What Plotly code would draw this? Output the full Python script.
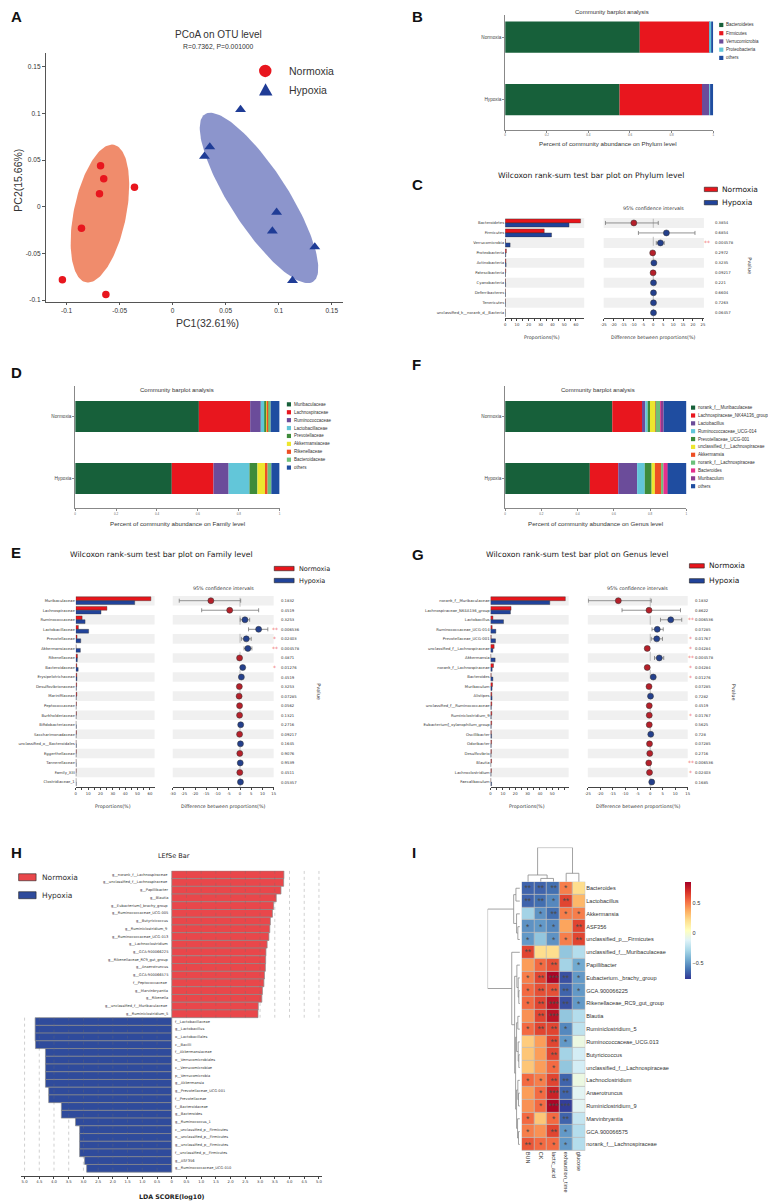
import numpy as np
import plotly.graph_objects as go

W, H = 776, 1204
OFF = 8  # page offset of the plot div (body margin) compensated in all pixel positions
SANS = "Liberation Sans"
MPL = "DejaVu Sans"

# ---------------- Panel A : PCoA ----------------
pcoa_norm_x = [-0.068, -0.065, -0.069, -0.036, -0.086, -0.104, -0.063]
pcoa_norm_y = [0.044, 0.030, 0.014, 0.021, -0.023, -0.078, -0.094]
pcoa_hyp_x = [0.064, 0.035, 0.030, 0.098, 0.094, 0.134, 0.113]
pcoa_hyp_y = [0.104, 0.064, 0.054, -0.006, -0.026, -0.043, -0.079]
pcoa_ticks = [-0.1, -0.05, 0, 0.05, 0.1, 0.15]
pcoa_ticktext = ["-0.1", "-0.05", "0", "0.05", "0.1", "0.15"]
ell_norm = dict(center=(-0.0686, -0.0073), major=(0.0133, 0.0736), minor=(0.0242, -0.0057))
ell_hyp = dict(center=(0.0814, 0.0094), major=(0.0510, -0.0896), minor=(0.0228, 0.0169))

group_names = ["Normoxia", "Hypoxia"]

# ---------------- Panels B / D / F : community barplots ----------------
bar_ticks = [0, 0.2, 0.4, 0.6, 0.8, 1]
bar_ticktext = ["0", "0.2", "0.4", "0.6", "0.8", "1"]

phylum_taxa = ["Bacteroidetes", "Firmicutes", "Verrucomicrobia", "Proteobacteria", "others"]
phylum_abund_norm = [0.647, 0.334, 0.003, 0.006, 0.010]
phylum_abund_hyp = [0.550, 0.396, 0.035, 0.004, 0.015]

family_taxa = ["Muribaculaceae", "Lachnospiraceae", "Ruminococcaceae", "Lactobacillaceae",
               "Prevotellaceae", "Akkermansiaceae", "Rikenellaceae", "Bacteroidaceae", "others"]
family_abund_norm = [0.605, 0.251, 0.052, 0.019, 0.008, 0.002, 0.011, 0.008, 0.044]
family_abund_hyp = [0.4725, 0.204, 0.074, 0.102, 0.039, 0.037, 0.013, 0.018, 0.0405]

genus_taxa = ["norank_f__Muribaculaceae", "Lachnospiraceae_NK4A136_group", "Lactobacillus",
              "Ruminococcaceae_UCG-014", "Prevotellaceae_UCG-001", "unclassified_f__Lachnospiraceae",
              "Akkermansia", "norank_f__Lachnospiraceae", "Bacteroides", "Muribaculum", "others"]
genus_abund_norm = [0.591, 0.164, 0.018, 0.013, 0.013, 0.029, 0.002, 0.026, 0.003, 0.015, 0.126]
genus_abund_hyp = [0.467, 0.157, 0.104, 0.042, 0.038, 0.018, 0.036, 0.011, 0.022, 0.003, 0.102]

# ---------------- Panels C / E / G : Wilcoxon ----------------
phylum_names = ["Bacteroidetes", "Firmicutes", "Verrucomicrobia", "Proteobacteria", "Actinobacteria",
                "Patescibacteria", "Cyanobacteria", "Deferribacteres", "Tenericutes",
                "unclassified_k__norank_d__Bacteria"]
phylum_norm = [63.9, 33.1, 0.3, 1.0, 0.6, 0.5, 0.3, 0.2, 0.2, 0.1]
phylum_hyp = [54.1, 39.3, 4.2, 0.5, 0.8, 0.3, 0.4, 0.3, 0.2, 0.1]
phylum_diff = [-9.8, 6.6, 3.6, -0.3, 0.3, -0.1, 0.1, 0.1, 0.1, 0.1]
phylum_lo = [-24.1, -7.5, 1.5, -0.6, 0.1, -0.3, 0.0, 0.0, 0.0, 0.0]
phylum_hi = [2.5, 21.0, 5.5, 0.0, 0.5, 0.1, 0.2, 0.2, 0.2, 0.2]
phylum_p = ["0.3854", "0.6854", "0.004578", "0.2972", "0.3235", "0.09217", "0.221", "0.6604",
            "0.7263", "0.06457"]
phylum_sig = ["", "", "**", "", "", "", "", "", "", ""]

family_names = ["Muribaculaceae", "Lachnospiraceae", "Ruminococcaceae", "Lactobacillaceae",
                "Prevotellaceae", "Akkermansiaceae", "Rikenellaceae", "Bacteroidaceae",
                "Erysipelotrichaceae", "Desulfovibrionaceae", "Marinifilaceae", "Peptococcaceae",
                "Burkholderiaceae", "Bifidobacteriaceae", "Saccharimonadaceae",
                "unclassified_o__Bacteroidales", "Eggerthellaceae", "Tannerellaceae", "Family_XIII",
                "Clostridiaceae_1"]
family_norm = [60.8, 25.2, 5.1, 2.1, 1.0, 0.2, 1.3, 0.8, 0.8, 0.7, 0.8, 0.5, 0.5, 0.1, 0.5, 0.2,
               0.4, 0.2, 0.3, 0.1]
family_hyp = [47.7, 20.4, 7.5, 10.4, 4.0, 3.7, 1.2, 1.9, 0.9, 0.4, 0.3, 0.2, 0.2, 0.4, 0.2, 0.4,
              0.2, 0.3, 0.1, 0.3]
family_diff = [-13.0, -4.6, 2.2, 8.3, 2.8, 3.5, -0.2, 1.2, 0.6, -0.3, -0.4, -0.2, -0.2, 0.3, -0.2,
               0.2, -0.1, 0.1, -0.1, 0.2]
family_lo = [-27.1, -17.1, 0.1, 3.8, 0.6, 1.8, -0.5, 0.7, 0.2, -0.6, -0.8, -0.4, -0.4, 0.1, -0.4,
             0.0, -0.3, 0.0, -0.3, 0.0]
family_hi = [0.3, 8.3, 4.3, 12.4, 5.0, 5.3, 0.1, 1.7, 1.0, 0.0, 0.0, 0.0, 0.0, 0.5, 0.0, 0.4, 0.1,
             0.2, 0.1, 0.4]
family_p = ["0.1832", "0.4519", "0.3253", "0.006536", "0.02403", "0.004578", "0.4871", "0.01276",
            "0.4519", "0.3253", "0.07285", "0.0562", "0.1321", "0.2716", "0.09217", "0.1645",
            "0.9076", "0.9539", "0.4511", "0.05357"]
family_sig = ["", "", "", "**", "*", "**", "", "*", "", "", "", "", "", "", "", "", "", "", "", ""]

genus_names = ["norank_f__Muribaculaceae", "Lachnospiraceae_NK4A136_group", "Lactobacillus",
               "Ruminococcaceae_UCG-014", "Prevotellaceae_UCG-001", "unclassified_f__Lachnospiraceae",
               "Akkermansia", "norank_f__Lachnospiraceae", "Bacteroides", "Muribaculum", "Alistipes",
               "unclassified_f__Ruminococcaceae", "Ruminiclostridium_9",
               "Eubacterium]_xylanophilum_group", "Oscillibacter", "Odoribacter", "Desulfovibrio",
               "Blautia", "Lachnoclostridium", "Faecalibaculum"]
genus_norm = [60.6, 16.6, 1.9, 1.3, 0.5, 2.9, 0.2, 2.4, 0.5, 1.6, 1.0, 1.0, 1.0, 0.9, 0.6, 0.8, 0.7,
              0.8, 0.7, 0.2]
genus_hyp = [48.0, 16.1, 10.5, 4.3, 4.0, 1.9, 3.7, 1.3, 1.9, 1.2, 1.2, 0.6, 0.5, 0.5, 0.8, 0.5, 0.4,
             0.2, 0.4, 0.8]
genus_diff = [-12.8, -0.5, 8.2, 2.8, 2.6, -1.2, 3.6, -1.2, 1.2, -0.5, 0.1, -0.4, -0.4, -0.4, 0.2,
              -0.3, -0.2, -0.6, -0.3, 0.6]
genus_lo = [-24.8, -11.3, 4.1, 0.7, 0.4, -2.0, 1.7, -2.0, 0.6, -1.0, -0.3, -0.8, -0.7, -0.7, -0.2,
            -0.6, -0.5, -0.9, -0.6, 0.2]
genus_hi = [0.4, 12.1, 12.6, 5.2, 4.9, -0.4, 5.4, -0.4, 1.8, 0.0, 0.5, 0.0, -0.1, -0.1, 0.6, 0.0,
            0.1, -0.3, 0.0, 1.0]
genus_p = ["0.1832", "0.8622", "0.006536", "0.07285", "0.01767", "0.04284", "0.004578", "0.04284",
           "0.01276", "0.07285", "0.7282", "0.4519", "0.01767", "0.5625", "0.728", "0.07285",
           "0.2716", "0.006536", "0.02403", "0.1685"]
genus_sig = ["", "", "**", "", "*", "*", "**", "*", "*", "", "", "", "*", "", "", "", "", "**", "*", ""]

# ---------------- Panel H : LEfSe ----------------
lefse_norm_names = ["g__norank_f__Lachnospiraceae", "g__unclassified_f__Lachnospiraceae",
                    "g__Papillibacter", "g__Blautia", "g__Eubacterium]_brachy_group",
                    "g__Ruminococcaceae_UCG-005", "g__Butyricicoccus", "g__Ruminiclostridium_9",
                    "g__Ruminococcaceae_UCG-013", "g__Lachnoclostridium", "g__GCA-900066225",
                    "g__Rikenellaceae_RC9_gut_group", "g__Anaerotruncus", "g__GCA-900066575",
                    "f__Peptococcaceae", "g__Marvinbryantia", "g__Rikenella",
                    "g__unclassified_f__Muribaculaceae", "g__Ruminiclostridium_5"]
lefse_norm_lda = [3.81, 3.80, 3.71, 3.55, 3.46, 3.42, 3.35, 3.33, 3.30, 3.24, 3.20, 3.19, 3.18,
                  3.15, 3.13, 3.08, 3.06, 2.94, 2.93]
lefse_hyp_names = ["f__Lactobacillaceae", "g__Lactobacillus", "o__Lactobacillales", "c__Bacilli",
                   "f__Akkermansiaceae", "o__Verrucomicrobiales", "c__Verrucomicrobiae",
                   "p__Verrucomicrobia", "g__Akkermansia", "g__Prevotellaceae_UCG-001",
                   "f__Prevotellaceae", "f__Bacteroidaceae", "g__Bacteroides", "g__Ruminococcus_1",
                   "c__unclassified_p__Firmicutes", "o__unclassified_p__Firmicutes",
                   "g__unclassified_p__Firmicutes", "f__unclassified_p__Firmicutes", "g__ASF356",
                   "g__Ruminococcaceae_UCG-010"]
lefse_hyp_lda = [4.64, 4.64, 4.64, 4.63, 4.29, 4.29, 4.29, 4.29, 4.29, 4.18, 4.18, 3.75, 3.75, 3.27,
                 3.13, 3.13, 3.13, 3.13, 2.96, 2.89]
lda_ticks = [-5.0, -4.5, -4.0, -3.5, -3.0, -2.5, -2.0, -1.5, -1.0, -0.5, 0, 0.5, 1.0, 1.5, 2.0,
             2.5, 3.0, 3.5, 4.0, 4.5, 5.0]
lda_ticktext = ["5.0", "4.5", "4.0", "3.5", "3.0", "2.5", "2.0", "1.5", "1.0", "0.5", "0", "0.5",
                "1.0", "1.5", "2.0", "2.5", "3.0", "3.5", "4.0", "4.5", "5.0"]

# ---------------- Panel I : correlation heatmap ----------------
heat_cols = ["BUN", "CK", "lactic_acid", "exhaustion_time", "glucose"]
heat_rows = ["Bacteroides", "Lactobacillus", "Akkermansia", "ASF356", "unclassified_p__Firmicutes",
             "unclassified_f__Muribaculaceae", "Papillibacter", "Eubacterium._brachy_group",
             "GCA.900066225", "Rikenellaceae_RC9_gut_group", "Blautia", "Ruminiclostridium_5",
             "Ruminococcaceae_UCG.013", "Butyricicoccus", "unclassified_f__Lachnospiraceae",
             "Lachnoclostridium", "Anaerotruncus", "Ruminiclostridium_9", "Marvinbryantia",
             "GCA.900066575", "norank_f__Lachnospiraceae"]
heat_r = [
    [-0.65, -0.65, -0.62, 0.50, 0.22],
    [-0.65, -0.62, -0.55, 0.65, 0.35],
    [-0.30, -0.52, -0.62, 0.50, 0.50],
    [-0.52, -0.50, -0.55, 0.40, 0.65],
    [-0.50, -0.35, -0.52, 0.50, 0.65],
    [0.65, 0.22, 0.22, -0.35, -0.25],
    [0.42, 0.55, 0.62, -0.30, -0.45],
    [0.50, 0.65, 0.85, -0.70, -0.50],
    [0.55, 0.62, 0.62, -0.65, -0.50],
    [0.55, 0.65, 0.80, -0.70, -0.50],
    [0.45, 0.65, 0.80, -0.35, -0.25],
    [0.55, 0.65, 0.65, -0.55, -0.22],
    [0.28, 0.42, 0.65, -0.50, -0.05],
    [0.30, 0.42, 0.65, -0.30, -0.15],
    [0.30, 0.42, 0.55, -0.35, -0.15],
    [0.55, 0.50, 0.65, -0.65, -0.05],
    [0.42, 0.55, 0.75, -0.65, -0.10],
    [0.45, 0.55, 0.85, -0.75, -0.10],
    [0.55, 0.30, 0.55, -0.65, -0.20],
    [0.50, 0.45, 0.65, -0.50, -0.25],
    [0.60, 0.55, 0.55, -0.50, -0.25],
]
heat_sig = [
    ["**", "**", "**", "*", ""], ["**", "**", "*", "**", ""], ["", "*", "**", "*", "*"],
    ["*", "*", "*", "", "**"], ["*", "", "*", "*", "**"], ["**", "", "", "", ""],
    ["", "*", "**", "", "*"], ["*", "**", "***", "**", "*"], ["*", "**", "**", "**", "*"],
    ["*", "**", "***", "**", "*"], ["", "**", "***", "", ""], ["*", "**", "**", "*", ""],
    ["", "", "**", "*", ""], ["", "", "**", "", ""], ["", "", "*", "", ""],
    ["*", "*", "**", "**", ""], ["", "*", "***", "**", ""], ["", "*", "***", "***", ""],
    ["*", "", "*", "**", ""], ["*", "", "**", "*", ""], ["**", "*", "*", "*", ""],
]
heat_ticks = [-0.5, 0, 0.5]
heat_ticktext = ["\u22120.5", "0", "0.5"]
col_merges = [("CK", "lactic_acid", 0.10), ("BUN", "m0", 0.20),
              ("exhaustion_time", "glucose", 0.25), ("m1", "m2", 1.0)]
row_merges = [("Bacteroides", "Lactobacillus", 0.12), ("ASF356", "unclassified_p__Firmicutes", 0.06),
              ("Akkermansia", "m1", 0.10), ("m0", "m2", 0.19),
              ("GCA.900066225", "Rikenellaceae_RC9_gut_group", 0.03),
              ("Eubacterium._brachy_group", "m4", 0.05), ("Papillibacter", "m5", 0.09),
              ("Blautia", "Ruminiclostridium_5", 0.06),
              ("Butyricicoccus", "unclassified_f__Lachnospiraceae", 0.03),
              ("Ruminococcaceae_UCG.013", "m8", 0.05), ("m7", "m9", 0.10),
              ("Anaerotruncus", "Ruminiclostridium_9", 0.04), ("Lachnoclostridium", "m11", 0.06),
              ("GCA.900066575", "norank_f__Lachnospiraceae", 0.04), ("Marvinbryantia", "m13", 0.07),
              ("m12", "m14", 0.10), ("m10", "m15", 0.13), ("m6", "m16", 0.16),
              ("unclassified_f__Muribaculaceae", "m17", 0.25), ("m3", "m18", 1.0)]

# ---------------- colours ----------------
RED, BLUE = "#E8151B", "#21439A"
phylum_colors = ["#17603A", "#E8161E", "#6B4C9A", "#62C6D9", "#1F4DA0"]
family_colors = ["#17603A", "#E8161E", "#6B4C9A", "#62C6D9", "#3E8B3A", "#EDE62E", "#EE4F24",
                 "#6DC07A", "#1F4DA0"]
genus_colors = ["#17603A", "#E8161E", "#6B4C9A", "#62C6D9", "#3E8B3A", "#EDE62E", "#EE4F24",
                "#6DC07A", "#E5308C", "#8B3C8F", "#1F4DA0"]

# =====================================================================
fig = go.Figure()
shapes, annos = [], []
layout = dict(width=W, height=H, margin=dict(l=0, r=0, t=0, b=0), paper_bgcolor="white",
              plot_bgcolor="white", showlegend=False, barmode="group", bargap=0.2, bargroupgap=0,
              font=dict(family=SANS, color="#222"))


def PX(x):
    return (x - OFF) / W


def PY(y):
    return 1 - (y - OFF) / H


def xr(n):
    return "x" if n == 1 else f"x{n}"


def yr(n):
    return "y" if n == 1 else f"y{n}"


def setax(n, xpx, ypx, xo, yo):
    sfx = "" if n == 1 else str(n)
    layout["xaxis" + sfx] = dict(domain=[PX(xpx[0]), PX(xpx[1])], anchor=yr(n), **xo)
    layout["yaxis" + sfx] = dict(domain=[PY(ypx[1]), PY(ypx[0])], anchor=xr(n), **yo)


def axstyle(**kw):
    d = dict(showgrid=False, zeroline=False, showline=False, ticks="", fixedrange=True)
    d.update(kw)
    return d


def txt(x, y, s, size, family=SANS, color="#222", bold=False, xanchor="center",
        yanchor="middle", angle=0):
    annos.append(dict(x=PX(x), y=PY(y), xref="paper", yref="paper",
                      text=f"<b>{s}</b>" if bold else s, showarrow=False, xanchor=xanchor,
                      yanchor=yanchor, textangle=angle, borderpad=0,
                      font=dict(size=size, family=family, color=color)))


def rect_px(x0, y0, x1, y1, fill, line=None, lw=0):
    shapes.append(dict(type="rect", xref="paper", yref="paper", x0=PX(x0), x1=PX(x1),
                       y0=PY(y1), y1=PY(y0), fillcolor=fill,
                       line=dict(color=line or fill, width=lw)))


def letter(x, y, s):
    txt(x, y, s, 15, bold=True, color="#111")


# ---------------- Panel A ----------------
letter(13.5, 17, "A")
tick_common = dict(showline=True, linecolor="#555", linewidth=0.8, ticks="outside", ticklen=3,
                   tickcolor="#555", tickwidth=0.8, tickfont=dict(size=6.5, color="#333"))
setax(1, (43, 343), (53, 302),
      axstyle(range=[-0.1197, 0.161], tickvals=pcoa_ticks, ticktext=pcoa_ticktext, **tick_common),
      axstyle(range=[-0.1014, 0.1646], tickvals=pcoa_ticks, ticktext=pcoa_ticktext, **tick_common))
tt = np.linspace(0, 2 * np.pi, 160)
for ell, col in ((ell_norm, "#F08C6C"), (ell_hyp, "#8C95CC")):
    cx, cy = ell["center"]
    ex = cx + ell["major"][0] * np.cos(tt) + ell["minor"][0] * np.sin(tt)
    ey = cy + ell["major"][1] * np.cos(tt) + ell["minor"][1] * np.sin(tt)
    fig.add_trace(go.Scatter(x=ex, y=ey, mode="lines", fill="toself", fillcolor=col,
                             line=dict(width=0, color=col), hoverinfo="skip", xaxis="x", yaxis="y"))
fig.add_trace(go.Scatter(x=pcoa_norm_x, y=pcoa_norm_y, mode="markers", xaxis="x", yaxis="y",
                         marker=dict(symbol="circle", size=7.5, color="#E8161E")))
fig.add_trace(go.Scatter(x=pcoa_hyp_x, y=pcoa_hyp_y, mode="markers", xaxis="x", yaxis="y",
                         marker=dict(symbol="triangle-up", size=9.5, color="#1F3C96")))
txt(216.7, 34.5, "PCoA on OTU level", 10, color="#333")
txt(216.7, 46.5, "R=0.7362, P=0.001000", 6.8, color="#333")
txt(205.7, 323.5, "PC1(32.61%)", 10.5, color="#333")
txt(15, 180, "PC2(15.66%)", 10.5, color="#333", angle=-90)
shapes.append(dict(type="circle", xref="paper", yref="paper", x0=PX(258), x1=PX(270.5),
                   y0=PY(77.3), y1=PY(64.8), fillcolor="#E8161E", line=dict(width=0)))
tri = [(264.5, 83.5), (258, 95.7), (271.5, 95.7)]
shapes.append(dict(type="path", xref="paper", yref="paper",
                   path="M " + " L ".join(f"{PX(x)},{PY(y)}" for x, y in tri) + " Z",
                   fillcolor="#1F3C96", line=dict(width=0)))
txt(287.5, 71, "Normoxia", 10.5, xanchor="left", color="#333")
txt(287.5, 90, "Hypoxia", 10.5, xanchor="left", color="#333")


# ---------------- community barplots ----------------
def community(n, taxa, vN, vH, colors, xpx, ypx, yrange, title_xy, xtitle_xy, xtitle,
              leg_x, leg_y0, leg_dy):
    baseN = np.concatenate([[0], np.cumsum(vN)[:-1]])
    baseH = np.concatenate([[0], np.cumsum(vH)[:-1]])
    for k, t in enumerate(taxa):
        fig.add_trace(go.Bar(orientation="h", x=[vN[k], vH[k]], y=[1, 0],
                             base=[baseN[k], baseH[k]], width=0.5, offsetgroup=f"cb{n}",
                             marker=dict(color=colors[k], line=dict(width=0)),
                             xaxis=xr(n), yaxis=yr(n), hoverinfo="skip"))
        yc = leg_y0 + k * leg_dy
        rect_px(leg_x, yc - 2.1, leg_x + 4.2, yc + 2.1, colors[k])
        txt(leg_x + 6, yc, t, 4.5, xanchor="left", color="#333")
    line_style = dict(ticks="outside", ticklen=2, tickcolor="#888", tickwidth=0.6, showline=True,
                      linecolor="#888", linewidth=0.7)
    setax(n, xpx, ypx,
          axstyle(range=[0, 1], tickvals=bar_ticks, ticktext=bar_ticktext,
                  tickfont=dict(size=3, color="#666"), **line_style),
          axstyle(range=yrange, tickvals=[1, 0], ticktext=group_names,
                  tickfont=dict(size=4.7, color="#444"), **line_style))
    txt(title_xy[0], title_xy[1], "Community barplot analysis", 6, color="#333")
    txt(xtitle_xy[0], xtitle_xy[1], xtitle, 6.2, color="#333")


letter(418, 17, "B")
community(2, phylum_taxa, phylum_abund_norm, phylum_abund_hyp, phylum_colors, (506, 715.7),
          (15, 130), [-0.485, 1.355], (613.3, 12.5), (610, 144),
          "Percent of community abundance on Phylum level", 721.7, 25, 8.25)
letter(13.5, 373.5, "D")
community(5, family_taxa, family_abund_norm, family_abund_hyp, family_colors, (72.7, 278.7),
          (386.7, 509), [-0.478, 1.491], (175.7, 390.7), (175.7, 524),
          "Percent of community abundance on Family level", 286, 405, 7.92)
letter(417, 365, "F")
community(6, genus_taxa, genus_abund_norm, genus_abund_hyp, genus_colors, (506, 688.7),
          (386.7, 509), [-0.478, 1.491], (600, 390.7), (596.7, 524),
          "Percent of community abundance on Genus level", 693.3, 408.3, 7.87)


# ---------------- Wilcoxon panels ----------------
def wilcoxon(nL, nR, names, vN, vH, diff, lo, hi, pvals, sig, level, g):
    n = len(names)
    idx = list(range(n))
    yrange = [n - 0.5, -0.5]
    fig.add_trace(go.Bar(orientation="h", x=vN, y=idx, xaxis=xr(nL), yaxis=yr(nL),
                         marker=dict(color=RED, line=dict(color="#333", width=0.4)),
                         hoverinfo="skip"))
    fig.add_trace(go.Bar(orientation="h", x=vH, y=idx, xaxis=xr(nL), yaxis=yr(nL),
                         marker=dict(color=BLUE, line=dict(color="#333", width=0.4)),
                         hoverinfo="skip"))
    for nn in (nL, nR):
        for i in range(0, n, 2):
            shapes.append(dict(type="rect", xref=f"{xr(nn)} domain", yref=yr(nn), x0=0, x1=1,
                               y0=i - 0.5, y1=i + 0.5, fillcolor="#F0F0F0", line=dict(width=0),
                               layer="below"))
    shapes.append(dict(type="line", xref=xr(nR), yref=f"{yr(nR)} domain", x0=0, x1=0, y0=0, y1=1,
                       line=dict(color="#999", width=0.6, dash="dash"), layer="below"))
    cols = ["#B5202A" if d < 0 else "#24408C" for d in diff]
    fig.add_trace(go.Scatter(
        x=diff, y=idx, mode="markers", xaxis=xr(nR), yaxis=yr(nR), hoverinfo="skip",
        marker=dict(color=cols, size=6, line=dict(color="#333", width=0.5)),
        error_x=dict(type="data", symmetric=False, array=[h - d for h, d in zip(hi, diff)],
                     arrayminus=[d - l for d, l in zip(diff, lo)], color="#777", thickness=0.8,
                     width=2)))
    tick_style = dict(ticks="outside", ticklen=2.5, tickcolor="#444", tickwidth=0.6, showline=True,
                      linecolor="#444", linewidth=0.6, tickfont=dict(size=3.8, family=MPL, color="#333"))
    lt = list(range(0, 65, 5))
    ltt = [str(v) if (v % 10 == 0 and v <= g["lmaxlab"]) else "" for v in lt]
    rt = list(range(g["rrange"][0], int(g["rrange"][1]) + 1, 5))
    setax(nL, g["lpx"], g["ypx"],
          axstyle(range=g["lrange"], tickvals=lt, ticktext=ltt, **tick_style),
          axstyle(range=yrange, tickvals=idx, ticktext=names,
                  tickfont=dict(size=3.8, family=MPL, color="#333")))
    setax(nR, g["rpx"], g["ypx"],
          axstyle(range=g["rrange"], tickvals=rt, ticktext=[str(v) for v in rt], **tick_style),
          axstyle(range=yrange, showticklabels=False))
    for i in idx:
        annos.append(dict(x=PX(g["pval_x"]), xref="paper", y=i, yref=yr(nR), text=pvals[i],
                          showarrow=False, xanchor="left", yanchor="middle", borderpad=0,
                          font=dict(size=3.8, family=MPL, color="#333")))
        if sig[i]:
            annos.append(dict(x=PX(g["star_x"]), xref="paper", y=i, yref=yr(nR), text=sig[i],
                              showarrow=False, xanchor="center", yanchor="middle", borderpad=0,
                              font=dict(size=6, family=MPL, color="#F07878")))
    txt(g["title"][0], g["title"][1], f"Wilcoxon rank-sum test bar plot on {level} level",
        g["tsize"], family=MPL, color="#222")
    txt(g["ci"][0], g["ci"][1], "95% confidence intervals", 4.8, family=MPL, color="#333")
    txt(g["prop"][0], g["prop"][1], "Proportions(%)", 4.8, family=MPL, color="#333")
    txt(g["dif"][0], g["dif"][1], "Difference between proportions(%)", 4.8, family=MPL, color="#333")
    txt(g["pv"][0], g["pv"][1], "Pvalue", 5, family=MPL, color="#333", angle=90)
    lx0, lx1 = g["leg_x"]
    for (yc, col, lab) in ((g["leg_y"][0], RED, "Normoxia"), (g["leg_y"][1], BLUE, "Hypoxia")):
        rect_px(lx0, yc - 2.2, lx1, yc + 2.2, col, line="#222", lw=0.6)
        txt(lx1 + 4, yc, lab, g["lsize"], family=MPL, xanchor="left", color="#222")


letter(417.5, 185, "C")
wilcoxon(3, 4, phylum_names, phylum_norm, phylum_hyp, phylum_diff, phylum_lo, phylum_hi, phylum_p,
         phylum_sig, "Phylum",
         dict(lpx=(506, 585.7), lrange=[0, 67], lmaxlab=60, rpx=(605.3, 706.3), rrange=[-25, 25.5],
              ypx=(218.3, 318.3), pval_x=716.7, star_x=709, pv=(752.7, 266.7), ci=(655.3, 209),
              prop=(543, 338), dif=(655.3, 338), title=(593, 175.7), tsize=7.7,
              leg_x=(706.7, 720), leg_y=(189.7, 203), lsize=7.5))
letter(13.5, 553.5, "E")
wilcoxon(7, 8, family_names, family_norm, family_hyp, family_diff, family_lo, family_hi, family_p,
         family_sig, "Family",
         dict(lpx=(73.3, 152.7), lrange=[0, 63.8], lmaxlab=60, rpx=(171, 272.7), rrange=[-30, 15],
              ypx=(596.9, 788.1), pval_x=279.3, star_x=274, pv=(319, 693), ci=(222, 589),
              prop=(110.7, 808), dif=(222, 808), title=(160, 555), tsize=7.7,
              leg_x=(273.3, 293.3), leg_y=(569.5, 581.5), lsize=6.5))
letter(418.5, 555, "G")
wilcoxon(9, 10, genus_names, genus_norm, genus_hyp, genus_diff, genus_lo, genus_hi, genus_p,
         genus_sig, "Genus",
         dict(lpx=(491.3, 570), lrange=[0, 63.3], lmaxlab=50, rpx=(589.3, 690), rrange=[-25, 15],
              ypx=(596.9, 788.1), pval_x=696.7, star_x=693, pv=(736.7, 693), ci=(639, 589),
              prop=(528.3, 808), dif=(640, 808), title=(578, 555), tsize=7.7,
              leg_x=(691.7, 706.7), leg_y=(566.8, 581.8), lsize=7.5))

# ---------------- Panel H : LEfSe ----------------
letter(13.5, 853.5, "H")
nN, nHy = len(lefse_norm_lda), len(lefse_hyp_lda)
fig.add_trace(go.Bar(orientation="h", x=lefse_norm_lda, y=list(range(nN)), width=1,
                     offsetgroup="lefse", xaxis="x11", yaxis="y11", hoverinfo="skip",
                     marker=dict(color="#E9474B", line=dict(color="#8A8A8A", width=0.7))))
fig.add_trace(go.Bar(orientation="h", x=[-v for v in lefse_hyp_lda],
                     y=list(range(nN, nN + nHy)), width=1, offsetgroup="lefse",
                     xaxis="x11", yaxis="y11", hoverinfo="skip",
                     marker=dict(color="#2F4B9C", line=dict(color="#8A8A8A", width=0.7))))
setax(11, (18.1, 321.9), (872.3, 1178),
      axstyle(range=[-5.12, 5.12], tickvals=lda_ticks, ticktext=lda_ticktext, ticks="outside",
              ticklen=2, tickcolor="#444", tickwidth=0.6, showline=True, linecolor="#444",
              linewidth=0.6, tickfont=dict(size=3.8, family=MPL, color="#333")),
      axstyle(range=[nN + nHy, -0.5], visible=False))
for k in range(1, 11):
    v = 0.5 * k
    shapes.append(dict(type="line", xref="x11", yref="y11", x0=v, x1=v, y0=-0.5, y1=nN - 0.5,
                       line=dict(color="rgba(110,110,110,0.55)", width=0.6, dash="dot"),
                       layer="above"))
    shapes.append(dict(type="line", xref="x11", yref="y11", x0=-v, x1=-v, y0=nN - 0.5,
                       y1=nN + nHy - 0.5,
                       line=dict(color="rgba(110,110,110,0.55)", width=0.6, dash="dot"),
                       layer="above"))
for i, nm in enumerate(lefse_norm_names):
    annos.append(dict(x=-0.09, xref="x11", y=i, yref="y11", text=nm, showarrow=False,
                      xanchor="right", yanchor="middle", borderpad=0,
                      font=dict(size=3.6, family=MPL, color="#333")))
for i, nm in enumerate(lefse_hyp_names):
    annos.append(dict(x=0.09, xref="x11", y=nN + i, yref="y11", text=nm, showarrow=False,
                      xanchor="left", yanchor="middle", borderpad=0,
                      font=dict(size=3.6, family=MPL, color="#333")))
txt(172.7, 857.7, "LEfSe Bar", 6.5, family=MPL, color="#222")
txt(170, 1198.5, "LDA SCORE(log10)", 6.3, family=MPL, bold=True, color="#222")
for (yc, col, lab) in ((878.7, "#E9474B", "Normoxia"), (896.7, "#2F4B9C", "Hypoxia")):
    rect_px(15.7, yc - 3.5, 33.3, yc + 3.5, col, line="#222", lw=0.6)
    txt(38.3, yc, lab, 7.5, family=MPL, xanchor="left", color="#333")

# ---------------- Panel I : heatmap with dendrograms ----------------
letter(414, 853.5, "I")
setax(12, (522.7, 586.7), (883.3, 1152.7),
      axstyle(range=[-0.5, 4.5], tickvals=list(range(5)), ticktext=heat_cols, tickangle=90,
              tickfont=dict(size=5.6, color="#333")),
      axstyle(range=[len(heat_rows) - 0.5, -0.5], tickvals=list(range(len(heat_rows))),
              ticktext=heat_rows, side="right", tickfont=dict(size=5.6, color="#333")))
shapes.append(dict(type="rect", xref="x12 domain", yref="y12 domain", x0=0, x1=1, y0=0, y1=1,
                   fillcolor="#BDBDBD", line=dict(width=0), layer="below"))
fig.add_trace(go.Heatmap(
    z=heat_r, x=list(range(5)), y=list(range(len(heat_rows))), xaxis="x12", yaxis="y12",
    colorscale="RdYlBu", reversescale=True, zmin=-0.77, zmax=0.87, xgap=0.8, ygap=0.8,
    text=heat_sig, texttemplate="%{text}", textfont=dict(size=8.5, color="#4A4A4A"),
    hoverinfo="skip",
    colorbar=dict(x=PX(687.7), xanchor="left", y=PY(931.7), yanchor="middle", len=96.7,
                  lenmode="pixels", thickness=6.3, thicknessmode="pixels", outlinewidth=0,
                  tickvals=heat_ticks, ticktext=heat_ticktext, ticks="", xpad=0, ypad=0,
                  tickfont=dict(size=5.5, color="#333"))))


def dendro(leaves, merges):
    pos = {leaf: (float(i), 0.0) for i, leaf in enumerate(leaves)}
    xs, hs = [], []
    for k, (a, b, h) in enumerate(merges):
        (xa, ha), (xb, hb) = pos[a], pos[b]
        xs += [xa, xa, xb, xb, None]
        hs += [ha, h, h, hb, None]
        pos[f"m{k}"] = ((xa + xb) / 2, h)
    return xs, hs


cx_, ch_ = dendro(heat_cols, col_merges)
fig.add_trace(go.Scatter(x=cx_, y=ch_, mode="lines", line=dict(color="#8A8A8A", width=0.8),
                         xaxis="x14", yaxis="y14", hoverinfo="skip"))
setax(14, (522.7, 586.7), (849, 883.3), axstyle(range=[-0.5, 4.5], visible=False),
      axstyle(range=[0, 1.0], visible=False))
rx_, rh_ = dendro(heat_rows, row_merges)
fig.add_trace(go.Scatter(x=rh_, y=rx_, mode="lines", line=dict(color="#8A8A8A", width=0.8),
                         xaxis="x13", yaxis="y13", hoverinfo="skip"))
setax(13, (488.3, 522.7), (883.3, 1152.7), axstyle(range=[1.0, -0.06], visible=False),
      axstyle(range=[len(heat_rows) - 0.5, -0.5], visible=False))

layout["shapes"] = shapes
layout["annotations"] = annos
fig.update_layout(**layout)
fig.write_html("out.html")
